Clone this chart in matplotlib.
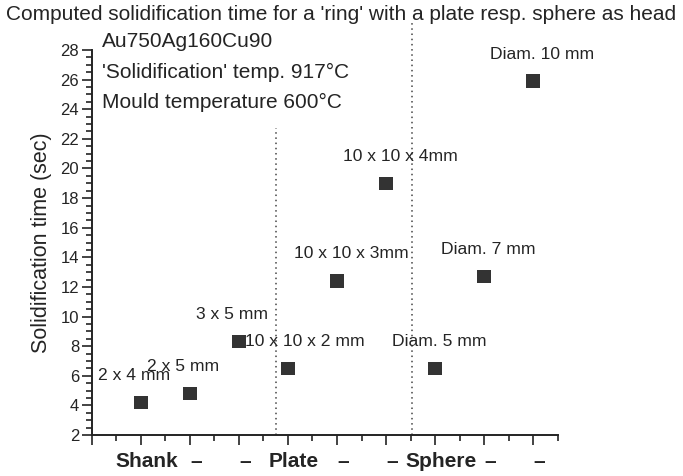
import matplotlib
matplotlib.use("Agg")
import matplotlib.pyplot as plt
import matplotlib.transforms as mtransforms
from matplotlib.ticker import MultipleLocator

# position on the x axis, solidification time (sec), label
positions = [1, 2, 3, 4, 5, 6, 7, 8, 9]
times = [4.2, 4.8, 8.3, 6.5, 12.4, 19.0, 6.5, 12.7, 25.9]
names = ["2 x 4 mm", "2 x 5 mm", "3 x 5 mm",
         "10 x 10 x 2 mm", "10 x 10 x 3mm", "10 x 10 x 4mm",
         "Diam. 5 mm", "Diam. 7 mm", "Diam. 10 mm"]

groups = ["", "Shank", "\u2013", "\u2013", "Plate", "\u2013", "\u2013",
          "Sphere", "\u2013", "\u2013"]
separators = [3.75, 6.52]

info = ["Au750Ag160Cu90",
        "'Solidification' temp. 917\u00b0C",
        "Mould temperature 600\u00b0C"]

ink = "#242424"
plt.rcParams["font.family"] = ["Liberation Sans", "DejaVu Sans"]

fig = plt.figure(figsize=(6.83, 4.76), dpi=100)
ax = fig.add_axes([0.1343, 0.0861, 0.6823, 0.8088])

ax.scatter(positions, times, marker="s", s=95, color="#333333",
           edgecolors="none", zorder=3)

for x, y, t in zip(positions, times, names):
    ax.annotate(t, (x, y), xytext=(-31, 19.5), textcoords="offset points",
                ha="left", va="center", fontsize=12.6, color=ink,
                annotation_clip=False)

# dotted separators between shank / plate / sphere
ax.axvline(separators[0], ymin=0, ymax=0.797, color="#444444", lw=1.1,
           ls=(0, (1, 2.4)), clip_on=False)
ax.axvline(separators[1], ymin=0, ymax=1.075, color="#444444", lw=1.1,
           ls=(0, (1, 2.4)), clip_on=False)

ax.set_xlim(0, 9.5)
ax.set_ylim(2, 28)
ax.set_xticks(range(len(groups)))
ax.set_xticklabels(groups, fontsize=15, fontweight="bold", color=ink)
ax.xaxis.set_minor_locator(MultipleLocator(0.5))
ax.yaxis.set_major_locator(MultipleLocator(2))
ax.yaxis.set_minor_locator(MultipleLocator(0.5))

ax.tick_params(which="major", length=7, width=1.2, color=ink,
               labelsize=12, labelcolor=ink)
ax.tick_params(axis="x", which="major", pad=5, labelsize=15)
ax.tick_params(axis="y", which="major", pad=2)
ax.tick_params(which="minor", length=4, width=1.2, color=ink)

# group names sit a little right of their ticks
shift = mtransforms.ScaledTranslation(6 / 100, 0, fig.dpi_scale_trans)
for lab in ax.get_xticklabels():
    lab.set_transform(lab.get_transform() + shift)

for side in ["top", "right"]:
    ax.spines[side].set_visible(False)
for side in ["left", "bottom"]:
    ax.spines[side].set_linewidth(1.4)
    ax.spines[side].set_color(ink)

ax.set_ylabel("Solidification time (sec)", fontsize=15.5, color=ink, labelpad=6)

for i, line in enumerate(info):
    ax.text(0.021, 1.021 - i * 0.078, line, transform=ax.transAxes,
            ha="left", va="center", fontsize=15, color=ink)

fig.text(0.5, 1 - 14 / 476,
         "Computed solidification time for a 'ring' with a plate resp. sphere as head",
         ha="center", va="center", fontsize=15, color=ink)

fig.savefig("out.png", dpi=100, facecolor="white")
